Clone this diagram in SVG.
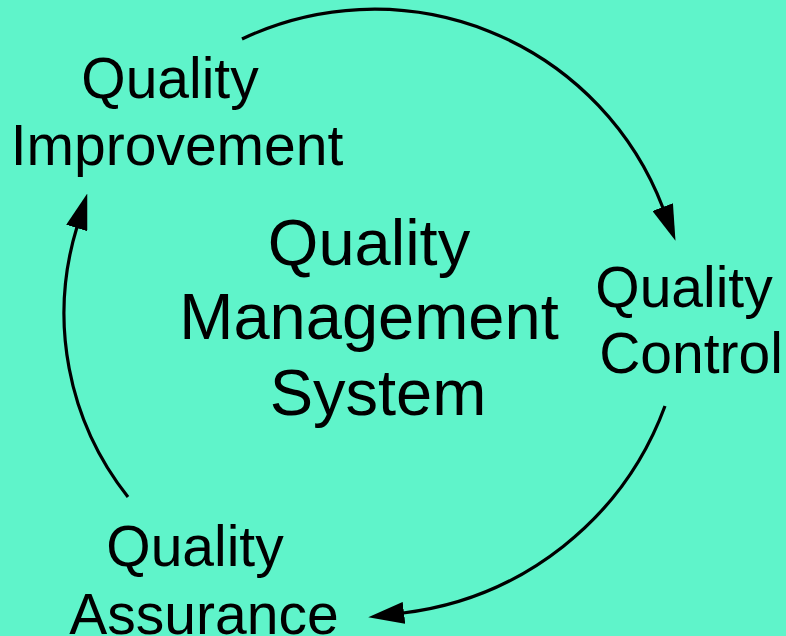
<svg xmlns="http://www.w3.org/2000/svg" width="786" height="636" viewBox="0 0 786 636">
<style>
.lbl{font-family:"Liberation Sans",Arial,sans-serif;font-size:57px;fill:#000;text-anchor:middle}
.big{font-size:65px}
.arc{fill:none;stroke:#000;stroke-width:3.2;marker-end:url(#ah)}
</style>
<defs>
<marker id="ah" markerUnits="userSpaceOnUse" markerWidth="36" markerHeight="22" viewBox="0 0 36 22" refX="1" refY="11" orient="auto">
<path d="M0,0 L36,11 L0,22 z" fill="#000"/>
</marker>
</defs>
<rect x="0" y="0" width="786" height="636" fill="#5ff4ca"/>
<g id="connectors">
<path class="arc" d="M242,39 A309,309 0 0 1 663,208"/>
<path class="arc" d="M665,406 A320,320 0 0 1 403,613"/>
<path class="arc" d="M128,497 A295,295 0 0 1 77,227"/>
</g>
<g id="improvement">
<text class="lbl" x="170" y="98">Quality</text>
<text class="lbl" x="177" y="165">Improvement</text>
</g>
<g id="control">
<text class="lbl" x="684" y="307">Quality</text>
<text class="lbl" x="691" y="373">Control</text>
</g>
<g id="assurance">
<text class="lbl" x="195" y="566">Quality</text>
<text class="lbl" x="204" y="634">Assurance</text>
</g>
<g id="qms">
<text class="lbl big" x="369" y="265">Quality</text>
<text class="lbl big" x="369" y="339">Management</text>
<text class="lbl big" x="378" y="415">System</text>
</g>
</svg>
